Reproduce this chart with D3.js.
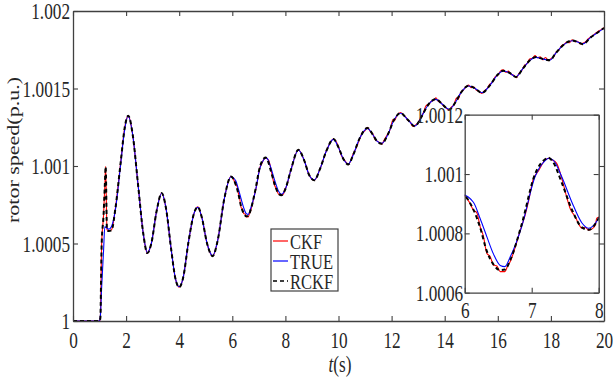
<!DOCTYPE html>
<html>
<head>
<meta charset="utf-8">
<script src="https://cdn.jsdelivr.net/npm/d3@7"></script>
<style>
  body { margin: 0; background: #fff; }
  svg text { font-family: "Liberation Serif", "Times New Roman", serif; fill: #262626; }
</style>
</head>
<body>
<div id="chart"></div>
<script>
// key times (s) shared by TRUE and RCKF
var time = [0, 0.5, 1.0, 1.03, 1.08, 1.15, 1.2, 1.23, 1.28, 1.35, 1.45, 1.6, 1.8, 1.95, 2.08,
  2.25, 2.45, 2.65, 2.8, 2.95, 3.15, 3.34, 3.5, 3.7, 3.85, 4.0, 4.15, 4.35, 4.55, 4.7,
  4.85, 5.05, 5.26, 5.45, 5.7, 5.95, 6.13, 6.23, 6.33, 6.43, 6.53, 6.6, 6.68, 6.85, 7.05,
  7.2, 7.25, 7.32, 7.45, 7.6, 7.75, 7.85, 8.0, 8.2, 8.49, 8.7, 8.9, 9.09, 9.3, 9.55,
  9.81, 10.0, 10.2, 10.37, 10.55, 10.8, 11.09, 11.3, 11.45, 11.63, 11.85, 12.1, 12.34, 12.6, 12.88,
  13.1, 13.4, 13.67, 13.9, 14.17, 14.4, 14.6, 14.9, 15.15, 15.4, 15.7, 16.0, 16.2, 16.45, 16.68,
  16.95, 17.2, 17.44, 17.7, 17.97, 18.15, 18.4, 18.82, 19.0, 19.2, 19.5, 19.75, 20.0];

var speedTrue = [1.0, 1.0, 1.0, 1.00003, 1.00022, 1.00045, 1.00061, 1.000605, 1.0006, 1.000592, 1.00061, 1.00072, 1.00102, 1.00124, 1.001323,
  1.0012, 1.00088, 1.00056, 1.000441, 1.0005, 1.00071, 1.000824, 1.00073, 1.00046, 1.00028, 1.000221, 1.00028, 1.00051, 1.00069, 1.000733,
  1.00067, 1.0005, 1.000421, 1.00052, 1.00079, 1.000931, 1.000905, 1.00085, 1.000789, 1.00073, 1.000692, 1.000688, 1.000721, 1.000822, 1.000991,
  1.001045, 1.001053, 1.001047, 1.00099, 1.000905, 1.000835, 1.000817, 1.000851, 1.00097, 1.001103, 1.00104, 1.00094, 1.00091, 1.00098, 1.0011,
  1.001172, 1.00112, 1.00104, 1.001013, 1.00107, 1.00118, 1.001243, 1.0012, 1.00116, 1.001146, 1.0012, 1.0013, 1.00134, 1.0013, 1.001258,
  1.00131, 1.0014, 1.00143, 1.0014, 1.001366, 1.00141, 1.00147, 1.001516, 1.0015, 1.001473, 1.00152, 1.00159, 1.001613, 1.0016, 1.001576,
  1.00163, 1.00168, 1.001701, 1.00169, 1.001684, 1.00172, 1.00177, 1.001808, 1.0018, 1.001788, 1.00183, 1.00186, 1.001888];

var speedRckf = [1.0, 1.0, 1.0, 1.00002, 1.0005, 1.00068, 1.00088, 1.000995, 1.000587, 1.00058, 1.000585, 1.00073, 1.00103, 1.00125, 1.001325,
  1.0012, 1.00088, 1.00056, 1.000438, 1.0005, 1.00071, 1.000826, 1.00073, 1.00046, 1.00028, 1.000218, 1.00028, 1.00051, 1.00069, 1.000736,
  1.00067, 1.0005, 1.000418, 1.00052, 1.00079, 1.000932, 1.00088, 1.00082, 1.00074, 1.000695, 1.000676, 1.000678, 1.00071, 1.00083, 1.001,
  1.00105, 1.001055, 1.00104, 1.00097, 1.00088, 1.00082, 1.000812, 1.000851, 1.00097, 1.001105, 1.00104, 1.00094, 1.000908, 1.00098, 1.0011,
  1.001174, 1.00112, 1.00104, 1.00101, 1.00107, 1.00118, 1.001245, 1.0012, 1.00116, 1.001144, 1.0012, 1.0013, 1.001342, 1.0013, 1.001256,
  1.00131, 1.0014, 1.001432, 1.0014, 1.001364, 1.00141, 1.00147, 1.001518, 1.0015, 1.001471, 1.00152, 1.00159, 1.001615, 1.0016, 1.001574,
  1.00163, 1.00168, 1.001703, 1.00169, 1.001682, 1.00172, 1.00177, 1.00181, 1.0018, 1.001786, 1.00183, 1.00186, 1.00189];

// CKF has its own (denser) time stamps, it is noisier
var timeCkf = [0, 0.5, 1.0, 1.03, 1.08, 1.15, 1.2, 1.23, 1.28, 1.35, 1.45, 1.6, 1.8, 1.95, 2.08,
  2.25, 2.45, 2.65, 2.8, 2.95, 3.15, 3.34, 3.5, 3.7, 3.85, 4.0, 4.15, 4.35, 4.55, 4.7,
  4.85, 5.05, 5.26, 5.45, 5.7, 5.95, 6.0, 6.07, 6.13, 6.18, 6.23, 6.28, 6.33, 6.38, 6.43,
  6.48, 6.53, 6.6, 6.64, 6.68, 6.75, 6.83, 6.9, 6.95, 7.02, 7.1, 7.2, 7.25, 7.3, 7.37,
  7.45, 7.52, 7.58, 7.65, 7.7, 7.75, 7.8, 7.85, 7.9, 7.95, 7.97, 8.0, 8.2, 8.49, 8.7,
  8.9, 9.09, 9.3, 9.55, 9.81, 10.0, 10.1, 10.2, 10.3, 10.37, 10.45, 10.55, 10.65, 10.72, 10.8,
  10.9, 11.0, 11.09, 11.2, 11.3, 11.38, 11.45, 11.55, 11.63, 11.72, 11.85, 11.95, 12.05, 12.1, 12.2,
  12.34, 12.45, 12.55, 12.6, 12.7, 12.8, 12.88, 12.98, 13.1, 13.2, 13.3, 13.4, 13.5, 13.6, 13.67,
  13.75, 13.85, 13.95, 14.05, 14.17, 14.25, 14.35, 14.45, 14.5, 14.6, 14.7, 14.8, 14.9, 15.0, 15.1,
  15.2, 15.3, 15.4, 15.5, 15.6, 15.7, 15.8, 15.9, 16.0, 16.1, 16.2, 16.3, 16.4, 16.5, 16.6,
  16.7, 16.8, 16.9, 17.0, 17.1, 17.2, 17.3, 17.4, 17.5, 17.6, 17.7, 17.8, 17.9, 18.0, 18.1,
  18.2, 18.3, 18.4, 18.5, 18.6, 18.7, 18.8, 18.9, 19.0, 19.1, 19.2, 19.3, 19.4, 19.5, 19.6,
  19.7, 19.8, 19.9, 20.0];

var speedCkf = [1.0, 1.0, 1.0, 1.00002, 1.0005, 1.00068, 1.00088, 1.000998, 1.00059, 1.000582, 1.000588, 1.00073, 1.00103, 1.00125, 1.001325,
  1.0012, 1.00088, 1.00056, 1.000438, 1.0005, 1.00071, 1.000826, 1.00073, 1.00046, 1.00028, 1.000218, 1.00028, 1.00051, 1.00069, 1.000736,
  1.00067, 1.0005, 1.000418, 1.00052, 1.00079, 1.000932, 1.000926, 1.000905, 1.000878, 1.00087, 1.000823, 1.00079, 1.000733, 1.000722, 1.000693,
  1.00069, 1.000671, 1.000671, 1.00069, 1.000705, 1.00075, 1.000811, 1.00086, 1.000905, 1.00098, 1.00101, 1.001047, 1.001053, 1.001048, 1.001037,
  1.000985, 1.000924, 1.00088, 1.000856, 1.000832, 1.000817, 1.00082, 1.000811, 1.000815, 1.000828, 1.000851, 1.000855, 1.00097, 1.001105, 1.00104,
  1.00094, 1.000908, 1.00098, 1.0011, 1.001174, 1.001125, 1.00107, 1.001045, 1.00102, 1.001008, 1.00103, 1.001078, 1.00111, 1.00114, 1.001175,
  1.001215, 1.001228, 1.00125, 1.001222, 1.001205, 1.00117, 1.001162, 1.00115, 1.00114, 1.001168, 1.001205, 1.001238, 1.0013, 1.001292, 1.001325,
  1.001345, 1.001328, 1.001312, 1.001296, 1.001285, 1.001255, 1.001262, 1.001275, 1.001315, 1.001345, 1.00139, 1.001398, 1.001418, 1.001425, 1.00144,
  1.001418, 1.00141, 1.001388, 1.001375, 1.00136, 1.00138, 1.001395, 1.00144, 1.00143, 1.001472, 1.00149, 1.001512, 1.001522, 1.001505, 1.00151,
  1.001488, 1.001482, 1.001468, 1.001486, 1.0015, 1.001528, 1.00154, 1.001575, 1.001585, 1.001612, 1.00162, 1.001605, 1.001612, 1.001592, 1.001585,
  1.00157, 1.001598, 1.001615, 1.001648, 1.00166, 1.00169, 1.001695, 1.001712, 1.001698, 1.001705, 1.001685, 1.0017, 1.00168, 1.001692, 1.001705,
  1.001735, 1.001748, 1.001775, 1.001785, 1.0018, 1.001795, 1.001815, 1.001802, 1.001805, 1.001788, 1.001792, 1.0018, 1.00182, 1.001832, 1.001845,
  1.001858, 1.001872, 1.00188, 1.001892];

var xTicks = [0, 2, 4, 6, 8, 10, 12, 14, 16, 18, 20];
var yTicks = [1, 1.0005, 1.001, 1.0015, 1.002];
var yTickLabels = ["1", "1.0005", "1.001", "1.0015", "1.002"];
var insetXTicks = [6, 7, 8];
var insetYTicks = [1.0006, 1.0008, 1.001, 1.0012];
var insetYTickLabels = ["1.0006", "1.0008", "1.001", "1.0012"];
var legendNames = ["CKF", "TRUE", "RCKF"];

var svgWidth = 613;
var svgHeight = 380;
var squeeze = 0.75;   // the original text is narrow
var fontSize = 23;

var svg = d3.select("#chart").append("svg")
  .attr("width", svgWidth)
  .attr("height", svgHeight);

var xScale = d3.scaleLinear().domain([0, 20]).range([73, 604]);
var yScale = d3.scaleLinear().domain([1, 1.002]).range([321, 11]);
var xIn = d3.scaleLinear().domain([6, 8]).range([464.7, 598.7]);
var yIn = d3.scaleLinear().domain([1.0006, 1.0012]).range([292.7, 114.7]);

function makeSeries(ts, vs) {
  return ts.map(function(t, i) { return { t: t, v: vs[i] }; });
}
var series = [
  { name: "CKF", data: makeSeries(timeCkf, speedCkf), color: "#ff0000", width: 1.1, dash: null },
  { name: "TRUE", data: makeSeries(time, speedTrue), color: "#0000ff", width: 1.1, dash: null },
  { name: "RCKF", data: makeSeries(time, speedRckf), color: "#000000", width: 2, dash: "4,3" }
];

function squeezeText(sel) {
  sel.selectAll("text")
    .style("font-size", fontSize + "px")
    .attr("fill", "#262626")
    .attr("transform", "scale(" + squeeze + ",1)");
}

function drawFrame(g, xs, ys, xt, yt, yLabels, xPad, yPad) {
  var bottom = g.append("g")
    .attr("transform", "translate(0," + ys.range()[0] + ")")
    .call(d3.axisBottom(xs).tickValues(xt).tickSizeInner(-5).tickSizeOuter(0).tickPadding(xPad).tickFormat(d3.format("d")));
  var left = g.append("g")
    .attr("transform", "translate(" + xs.range()[0] + ",0)")
    .call(d3.axisLeft(ys).tickValues(yt).tickSizeInner(-5).tickSizeOuter(0).tickPadding(yPad)
      .tickFormat(function(d, i) { return yLabels[i]; }));
  var top = g.append("g")
    .attr("transform", "translate(0," + ys.range()[1] + ")")
    .call(d3.axisTop(xs).tickValues(xt).tickSizeInner(-5).tickSizeOuter(0).tickFormat(""));
  var right = g.append("g")
    .attr("transform", "translate(" + xs.range()[1] + ",0)")
    .call(d3.axisRight(ys).tickValues(yt).tickSizeInner(-5).tickSizeOuter(0).tickFormat(""));
  [bottom, left, top, right].forEach(function(a) {
    a.selectAll("path").attr("stroke", "#404040").attr("stroke-width", 1.3);
    a.selectAll("line").attr("stroke", "#404040").attr("stroke-width", 1.1);
    squeezeText(a);
  });
  left.selectAll("text").attr("dy", "0.33em");
}

function drawLines(g, xs, ys) {
  series.forEach(function(s) {
    var line = d3.line()
      .x(function(d) { return xs(d.t); })
      .y(function(d) { return ys(d.v); })
      .curve(d3.curveMonotoneX);
    g.append("path")
      .datum(s.data)
      .attr("d", line)
      .attr("fill", "none")
      .attr("stroke", s.color)
      .attr("stroke-width", s.width)
      .attr("stroke-dasharray", s.dash);
  });
}

// main chart
var mainGroup = svg.append("g");
drawLines(mainGroup, xScale, yScale);
drawFrame(mainGroup, xScale, yScale, xTicks, yTicks, yTickLabels, 11, 4);

// axis titles
svg.append("text")
  .attr("transform", "translate(340,372) scale(" + squeeze + ",1)")
  .attr("text-anchor", "middle")
  .style("font-size", fontSize + "px")
  .html('<tspan font-style="italic">t</tspan>(s)');

svg.append("text")
  .attr("transform", "translate(19,150) scale(" + squeeze + ",1) rotate(-90)")
  .attr("text-anchor", "middle")
  .style("font-size", "22px")
  .text("rotor speed(p.u.)");

// legend
var legend = svg.append("g");
legend.append("rect")
  .attr("x", 271).attr("y", 229)
  .attr("width", 67).attr("height", 62)
  .attr("fill", "#fff")
  .attr("stroke", "#404040")
  .attr("stroke-width", 1.2);
legendNames.forEach(function(name, i) {
  var s = series[i];
  var ly = 241 + i * 20;
  legend.append("line")
    .attr("x1", 273).attr("x2", 288)
    .attr("y1", ly).attr("y2", ly)
    .attr("stroke", s.color)
    .attr("stroke-width", s.name === "RCKF" ? 1.6 : 1.2)
    .attr("stroke-dasharray", s.name === "RCKF" ? "4,3" : null);
  legend.append("text")
    .attr("transform", "translate(290," + (ly + 8) + ") scale(" + squeeze + ",1)")
    .style("font-size", "22px")
    .text(name);
});

// inset zoom on 6..8 s
var inset = svg.append("g");
inset.append("rect")
  .attr("x", 464.7).attr("y", 114.7)
  .attr("width", 134).attr("height", 178)
  .attr("fill", "#fff");
svg.append("clipPath").attr("id", "insetClip")
  .append("rect")
  .attr("x", 464.7).attr("y", 114.7)
  .attr("width", 134).attr("height", 178);
var insetLines = inset.append("g").attr("clip-path", "url(#insetClip)");
drawLines(insetLines, xIn, yIn);
drawFrame(inset, xIn, yIn, insetXTicks, insetYTicks, insetYTickLabels, 9, 2);
</script>
</body>
</html>
